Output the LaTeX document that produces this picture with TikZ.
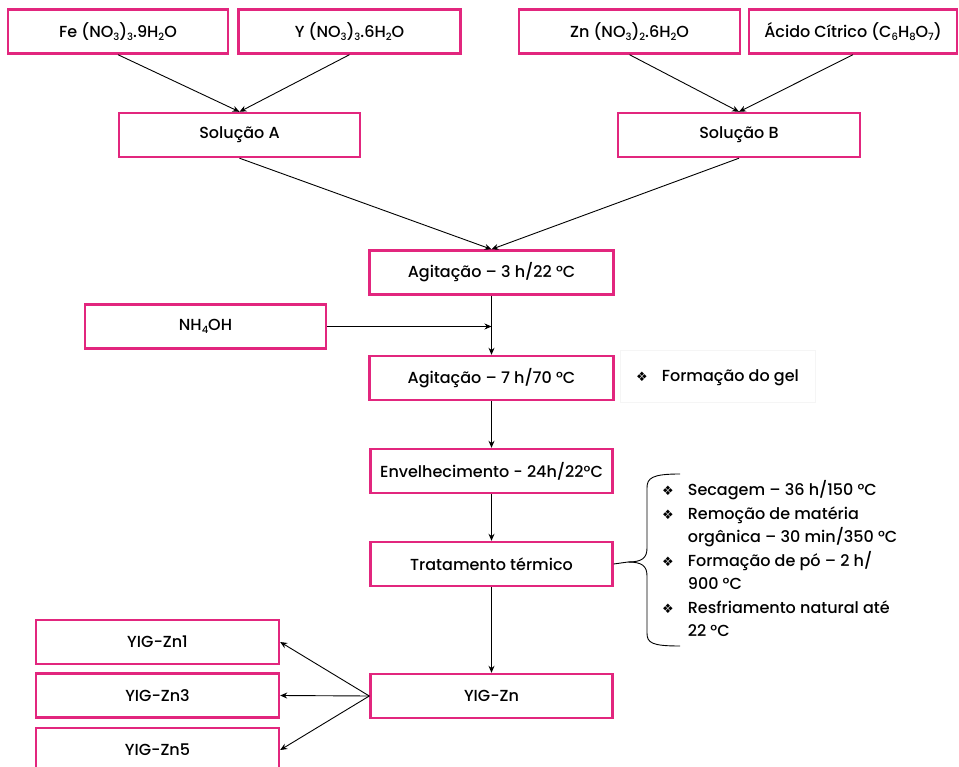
\documentclass[tikz,border=0pt]{standalone}
\usepackage{fontspec}
\setmainfont{Poppins}[UprightFont=* Medium]
\newfontfamily\dejavu{DejaVu Sans}
\usetikzlibrary{arrows.meta}
\definecolor{boxpink}{HTML}{E2267E}
\newcommand{\sbx}[1]{\raisebox{-0.4ex}{\fontsize{10}{10}\selectfont #1}}
\newcommand{\bul}{{\dejavu\fontsize{13}{13}\selectfont ❖}}
\tikzset{
  stepbox/.style={draw=boxpink, line width=2.4pt, rectangle, minimum width=#1, minimum height=44pt, inner sep=0pt, font=\fontsize{16}{19}\selectfont},
  stepbox/.default=242pt,
  flow/.style={draw=black, line width=0.9pt, -{Stealth[length=7pt,width=6pt]}},
  bracel/.style={draw=black, line width=0.9pt},
  notes/.style={anchor=north west, inner sep=0pt, font=\fontsize{16}{23.5}\selectfont}
}
\begin{document}
\begin{tikzpicture}[x=1pt,y=-1pt]
\useasboundingbox (0,0) rectangle (959,767);
\clip (0,0) rectangle (959,767);
% top row
\node[stepbox=220pt] (fe) at (118,31.5) {Fe (NO\sbx{3})\sbx{3}.9H\sbx{2}O};
\node[stepbox=222pt] (yn) at (349.5,31.5) {Y (NO\sbx{3})\sbx{3}.6H\sbx{2}O};
\node[stepbox=221pt] (zn) at (629.5,31.5) {Zn (NO\sbx{3})\sbx{2}.6H\sbx{2}O};
\node[stepbox=208pt] (ac) at (853,31.5) {Ácido Cítrico (C\sbx{6}H\sbx{8}O\sbx{7})};
% solutions
\node[stepbox=241pt] (solA) at (239.5,135) {Solução A};
\node[stepbox=242pt] (solB) at (739,135) {Solução B};
% main chain
\node[stepbox=244pt] (ag3) at (491.5,272.5) {Agitação – 3 h/22 °C};
\node[stepbox=241pt] (nh) at (205.5,326.5) {NH\sbx{4}OH};
\node[stepbox=244pt] (ag7) at (491.5,378) {Agitação – 7 h/70 °C};
\node[stepbox=242pt] (env) at (491.5,471) {Envelhecimento - 24h/22°C};
\node[stepbox=242pt] (trat) at (491.5,564) {Tratamento térmico};
\node[stepbox=242pt] (yig) at (491.5,696) {YIG-Zn};
% outputs
\node[stepbox=243pt] (z1) at (157.5,642) {YIG-Zn1};
\node[stepbox=243pt] (z3) at (157.5,695.5) {YIG-Zn3};
\node[stepbox=243pt] (z5) at (157.5,750) {YIG-Zn5};
% notes
\node[draw=black!4, line width=0.6pt, minimum width=195pt, minimum height=52pt, anchor=north west] (gelbox) at (620,350) {};
\node[notes, anchor=west] (gel) at (636,377) {\begin{tabular}{@{}l@{\hspace{14pt}}l@{}}\bul & Formação do gel\end{tabular}};
\node[notes] (list) at (662,479) {\begin{tabular}{@{}l@{\hspace{14pt}}l@{}}
\bul & Secagem – 36 h/150 °C\\
\bul & Remoção de matéria\\
 & orgânica – 30 min/350 °C\\
\bul & Formação de pó – 2 h/\\
 & 900 °C\\
\bul & Resfriamento natural até\\
 & 22 °C
\end{tabular}};
% connectors
\draw[flow] (fe.south) -- (solA.north);
\draw[flow] (yn.south) -- (solA.north);
\draw[flow] (zn.south) -- (solB.north);
\draw[flow] (ac.south) -- (solB.north);
\draw[flow] (solA.south) -- (ag3.north);
\draw[flow] (solB.south) -- (ag3.north);
\draw[flow] (ag3.south) -- (ag7.north);
\coordinate (j) at (ag3.south |- nh.east);
\draw[flow] (nh.east) -- (j);
\draw[flow] (ag7.south) -- (env.north);
\draw[flow] (env.south) -- (trat.north);
\draw[flow] (trat.south) -- (yig.north);
\draw[flow] (yig.west) -- (z1.east);
\draw[flow] (yig.west) -- (z3.east);
\draw[flow] (yig.west) -- (z5.east);
% brace
\coordinate (bt) at (628,562);
\draw[bracel] (trat.east) -- (bt);
\draw[bracel] (bt) .. controls (642,562) and (647,558) .. (647,548) -- (647,488) .. controls (647,478) and (652,474) .. (680,474);
\draw[bracel] (bt) .. controls (642,562) and (647,566) .. (647,576) -- (647,633) .. controls (647,643) and (652,646) .. (680,646);
\end{tikzpicture}
\end{document}
